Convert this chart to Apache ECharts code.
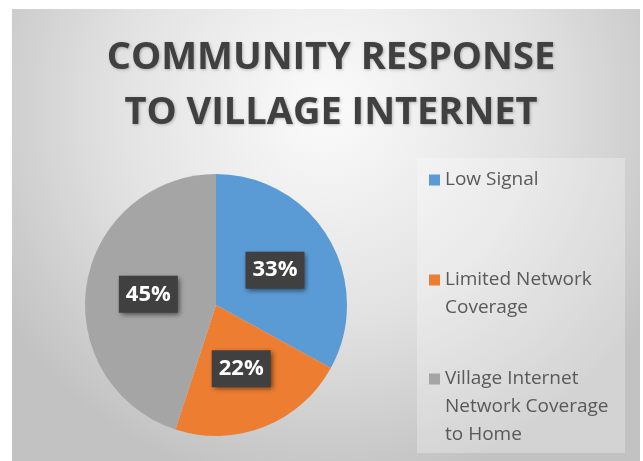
<!DOCTYPE html>
<html>
<head>
<meta charset="utf-8">
<script src="https://cdn.jsdelivr.net/npm/echarts@6/dist/echarts.min.js"></script>
<style>
html,body{margin:0;padding:0;background:#fff;}
#c{width:643px;height:461px;}
</style>
</head>
<body>
<div id="c"></div>
<script>
const titleLines = ['COMMUNITY RESPONSE', 'TO VILLAGE INTERNET'];
const categories = ['Low Signal', 'Limited Network Coverage', 'Village Internet Network Coverage to Home'];
const legendLines = [['Low Signal'], ['Limited Network', 'Coverage'], ['Village Internet', 'Network Coverage', 'to Home']];
const values = [33, 22, 45];
const colors = ['#5b9bd5', '#ed7d31', '#a5a5a5'];

const chart = echarts.init(document.getElementById('c'), null, {renderer: 'canvas'});
const FONT = 'Open Sans';
const LH = 28;
const legendTops = [166, 238, 309];

const legends = categories.map((name, i) => {
  const n = legendLines[i].length;
  // blank lines above so that the first real line sits level with the icon
  const blanks = new Array(n - 1).fill(' ');
  return {
    data: [name],
    orient: 'vertical',
    left: 429,
    top: legendTops[i],
    padding: 0,
    itemWidth: 11,
    itemHeight: 11,
    selectedMode: false,
    icon: 'rect',
    formatter: () => blanks.concat(legendLines[i]).join('\n'),
    textStyle: {
      fontFamily: FONT,
      fontSize: 19,
      color: '#595959',
      lineHeight: LH
    }
  };
});

chart.setOption({
  animation: false,
  color: colors,
  graphic: [
    {
      type: 'rect', z: -10, silent: true,
      shape: {x: 12, y: 9, width: 628, height: 452},
      style: {
        fill: new echarts.graphic.RadialGradient(0.5, 0.22, 0.85, [
          {offset: 0, color: '#fbfbfb'},
          {offset: 0.55, color: '#e2e2e2'},
          {offset: 1, color: '#c2c2c2'}
        ])
      }
    },
    {
      type: 'rect', z: -9, silent: true,
      shape: {x: 417, y: 158, width: 208, height: 295},
      style: {fill: 'rgba(255,255,255,0.28)'}
    }
  ],
  title: {
    text: titleLines.join('\n'),
    left: 326,
    top: 26,
    textAlign: 'center',
    textStyle: {
      fontFamily: FONT,
      fontSize: 38,
      fontWeight: 'bold',
      color: '#404040',
      lineHeight: 55,
      textShadowColor: 'rgba(0,0,0,0.25)',
      textShadowBlur: 3,
      textShadowOffsetX: 1,
      textShadowOffsetY: 1
    }
  },
  legend: legends,
  series: [{
    type: 'pie',
    center: [216, 305],
    radius: 131,
    startAngle: 90,
    clockwise: true,
    silent: true,
    data: categories.map((name, i) => ({name, value: values[i]})),
    itemStyle: {borderWidth: 0},
    label: {
      position: 'inside',
      formatter: '{c}%',
      fontFamily: FONT,
      fontSize: 22,
      fontWeight: 'bold',
      color: '#ffffff',
      backgroundColor: '#404040',
      padding: [6, 7, 5, 7],
      lineHeight: 26,
      shadowColor: 'rgba(0,0,0,0.55)',
      shadowBlur: 5,
      shadowOffsetX: 2,
      shadowOffsetY: 2
    },
    labelLine: {show: false}
  }]
});
</script>
</body>
</html>
